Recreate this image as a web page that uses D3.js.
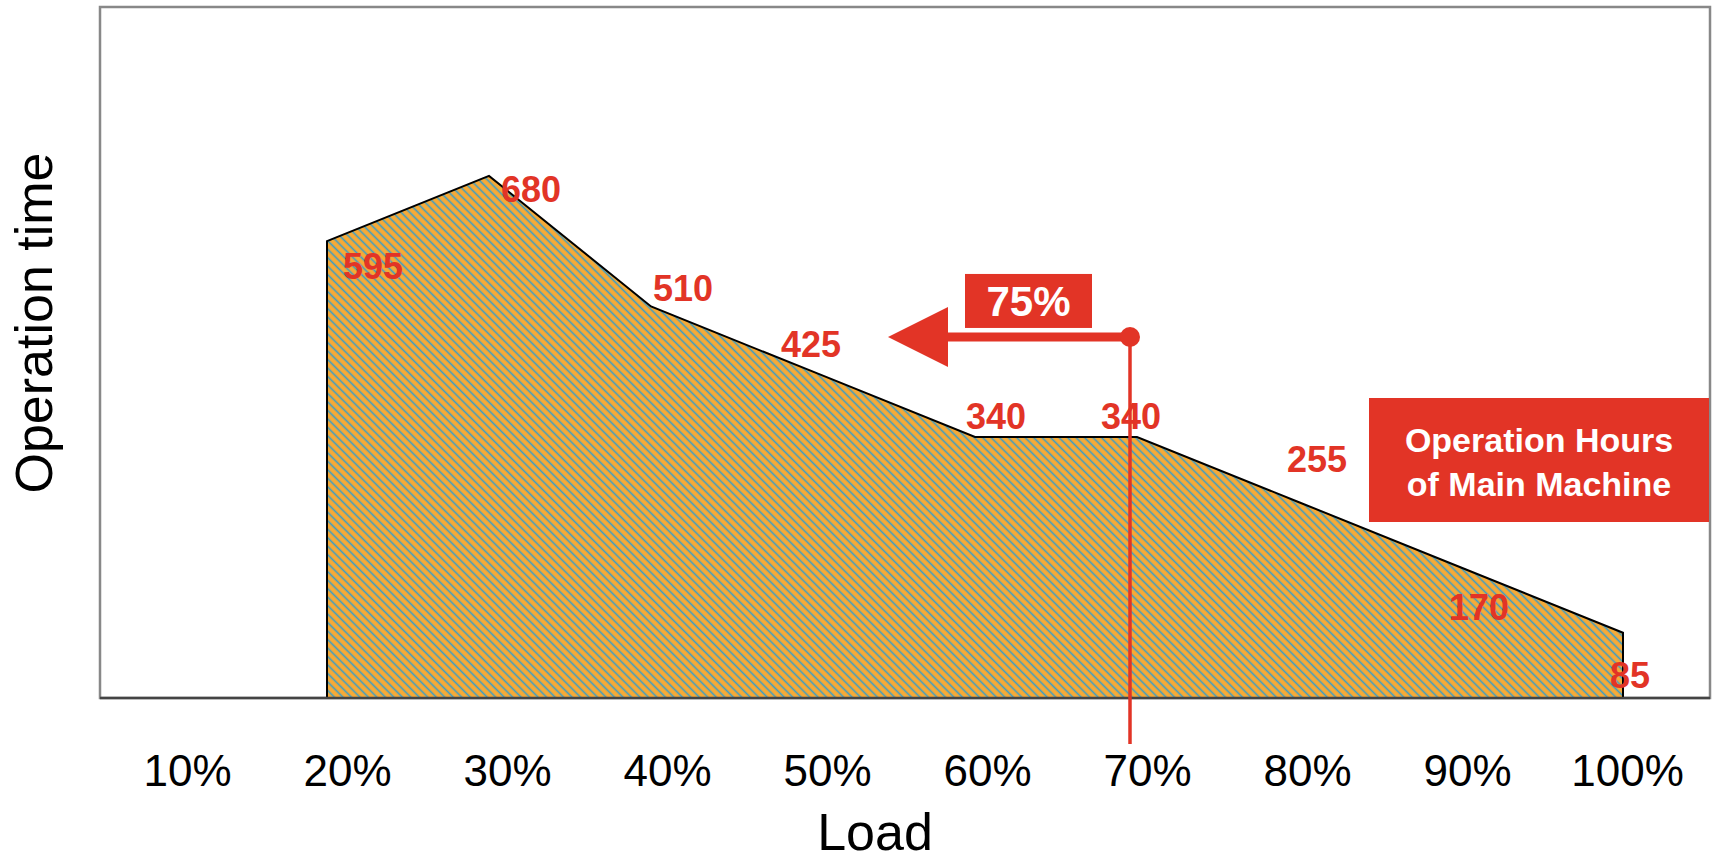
<!DOCTYPE html>
<html>
<head>
<meta charset="utf-8">
<script src="https://cdn.jsdelivr.net/npm/d3@7"></script>
<style>
  html, body { margin: 0; padding: 0; background: #fff; }
  svg { display: block; font-family: "Liberation Sans", Arial, sans-serif; }
</style>
</head>
<body>
<svg id="chart" width="1715" height="861"></svg>
<script>
// Load categories shown along the x axis
const loadLabels = ["10%", "20%", "30%", "40%", "50%", "60%", "70%", "80%", "90%", "100%"];
// Operation time of the main machine per load step (no entry at 10%)
const seriesLoads = ["20%", "30%", "40%", "50%", "60%", "70%", "80%", "90%", "100%"];
const operationTime = [595, 680, 510, 425, 340, 340, 255, 170, 85];
// Offsets of each value label from its point [dx, dy, anchor]
const labelOffsets = [
  [16, 38, "start"], [12, 26, "start"], [2, -5, "start"], [-2, -15, "middle"],
  [21, -8, "middle"], [-6, -8, "middle"], [18, -30, "middle"], [18, 53, "middle"], [7, 55, "middle"]
];
const shareLabel = "75%";
const boxLines = ["Operation Hours", "of Main Machine"];
const xTitle = "Load";
const yTitle = "Operation time";

const RED = "#E23426";
const svg = d3.select("#chart");

// Plot frame
const frame = { left: 100, top: 7, right: 1710, bottom: 698 };

// Scales
const xAxisScale = d3.scaleBand().domain(loadLabels).range([107.5, 1707.5]);
const xSeries = d3.scalePoint().domain(loadLabels).range([165, 1623]);
const y = d3.scaleLinear().domain([0, 900]).range([frame.bottom, frame.top]);

// Hatch fill: orange ground with blue diagonal stripes
const defs = svg.append("defs");
const pat = defs.append("pattern")
  .attr("id", "hatch")
  .attr("patternUnits", "userSpaceOnUse")
  .attr("width", 6).attr("height", 6)
  .attr("patternTransform", "rotate(-45)");
pat.append("rect").attr("width", 6).attr("height", 6).attr("fill", "#F8AA35");
pat.append("line").attr("x1", 1.5).attr("y1", 0).attr("x2", 1.5).attr("y2", 6)
  .attr("stroke", "#389DC9").attr("stroke-width", 1.6);

// Frame
svg.append("rect")
  .attr("x", frame.left).attr("y", frame.top)
  .attr("width", frame.right - frame.left).attr("height", frame.bottom - frame.top)
  .attr("fill", "#fff").attr("stroke", "#888").attr("stroke-width", 2.5);

// Area
const pts = seriesLoads.map((l, i) => ({ load: l, v: operationTime[i] }));
const area = d3.area()
  .x(d => xSeries(d.load))
  .y0(y(0))
  .y1(d => y(d.v));
svg.append("path")
  .datum(pts)
  .attr("d", area)
  .attr("fill", "url(#hatch)")
  .attr("stroke", "#000")
  .attr("stroke-width", 2)
  .attr("stroke-linejoin", "miter");

// Baseline
svg.append("line")
  .attr("x1", frame.left).attr("x2", frame.right)
  .attr("y1", frame.bottom).attr("y2", frame.bottom)
  .attr("stroke", "#444").attr("stroke-width", 2.5);

// X axis tick labels
const xAxis = d3.axisBottom(xAxisScale).tickSize(0).tickPadding(0);
const gx = svg.append("g").attr("transform", `translate(0,${frame.bottom})`).call(xAxis);
gx.select(".domain").remove();
gx.selectAll("text")
  .attr("y", 88).attr("dy", 0)
  .attr("font-size", 44)
  .attr("font-family", "Liberation Sans, Arial, sans-serif")
  .attr("fill", "#000");

// Axis titles
svg.append("text")
  .attr("x", 875).attr("y", 850)
  .attr("text-anchor", "middle")
  .attr("font-size", 52).attr("fill", "#000")
  .text(xTitle);
svg.append("text")
  .attr("transform", "translate(33,323) rotate(-90)")
  .attr("text-anchor", "middle").attr("dy", "0.36em")
  .attr("font-size", 52).attr("fill", "#000")
  .text(yTitle);

// Value labels
svg.append("g").selectAll("text")
  .data(pts)
  .join("text")
  .attr("x", (d, i) => xSeries(d.load) + labelOffsets[i][0])
  .attr("y", (d, i) => y(d.v) + labelOffsets[i][1])
  .attr("text-anchor", (d, i) => labelOffsets[i][2])
  .attr("font-size", 36).attr("font-weight", "bold")
  .attr("fill", RED)
  .text(d => d.v);

// 75% marker: vertical line at 70% load, dot and leftward arrow above the curve
const markX = xSeries("70%") - 7;
const markY = y(340) - 100;
svg.append("line")
  .attr("x1", markX).attr("x2", markX)
  .attr("y1", markY).attr("y2", 744)
  .attr("stroke", RED).attr("stroke-width", 3.5);
svg.append("line")
  .attr("x1", markX).attr("x2", 944)
  .attr("y1", markY).attr("y2", markY)
  .attr("stroke", RED).attr("stroke-width", 9);
svg.append("path")
  .attr("d", `M888,${markY} L948,${markY - 30} L948,${markY + 30} Z`)
  .attr("fill", RED);
svg.append("circle")
  .attr("cx", markX).attr("cy", markY).attr("r", 10)
  .attr("fill", RED);
svg.append("rect")
  .attr("x", 965).attr("y", markY - 63).attr("width", 127).attr("height", 54)
  .attr("fill", RED);
svg.append("text")
  .attr("x", 1028.5).attr("y", markY - 21)
  .attr("text-anchor", "middle")
  .attr("font-size", 42).attr("font-weight", "bold").attr("fill", "#fff")
  .text(shareLabel);

// Caption box
svg.append("rect")
  .attr("x", 1369).attr("y", 398).attr("width", 340).attr("height", 124)
  .attr("fill", RED);
svg.append("g").selectAll("text")
  .data(boxLines)
  .join("text")
  .attr("x", 1539)
  .attr("y", (d, i) => 452 + i * 44)
  .attr("text-anchor", "middle")
  .attr("font-size", 34).attr("font-weight", "bold").attr("fill", "#fff")
  .text(d => d);
</script>
</body>
</html>
